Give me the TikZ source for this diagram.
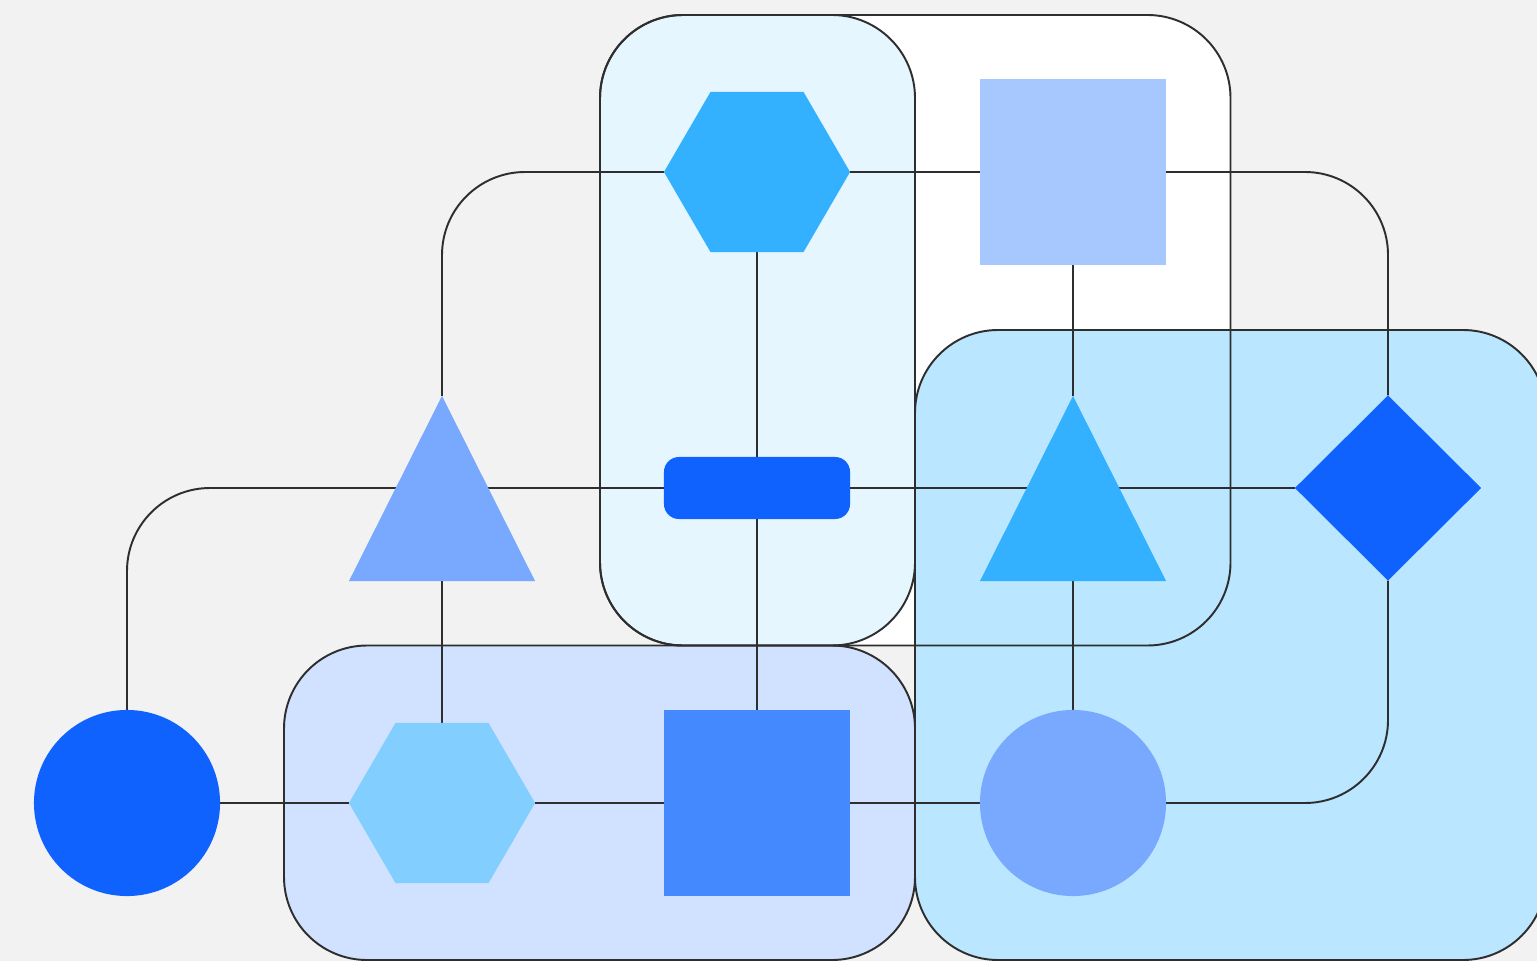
\documentclass[tikz,border=0pt]{standalone}
\definecolor{canvas}{HTML}{F2F2F2}
\definecolor{cyanten}{HTML}{E5F6FF}
\definecolor{cyantwenty}{HTML}{BAE6FF}
\definecolor{cyanthirty}{HTML}{82CFFF}
\definecolor{cyanforty}{HTML}{33B1FF}
\definecolor{bluetwenty}{HTML}{D0E2FF}
\definecolor{bluethirty}{HTML}{A6C8FF}
\definecolor{blueforty}{HTML}{78A9FF}
\definecolor{bluefifty}{HTML}{4589FF}
\definecolor{bluesixty}{HTML}{0F62FE}
\definecolor{ink}{HTML}{2E2E2E}

\pgfdeclarelayer{groups}
\pgfdeclarelayer{wires}
\pgfsetlayers{groups,wires,main}

\tikzset{
  wire/.style={draw=ink, line width=0.55pt, rounded corners=0.83cm},
  groupfill/.style={fill=#1, rounded corners=0.83cm},
  groupline/.style={draw=ink, line width=0.55pt, rounded corners=0.83cm},
  box/.style={inner sep=0pt, outer sep=0pt, minimum width=1.86cm, minimum height=1.86cm},
  sqnode/.style={box, fill=#1},
  disc/.style={circle, inner sep=0pt, outer sep=0pt, minimum size=1.86cm, fill=#1},
  hexnode/.style={box, minimum height=1.6cm,
    path picture={\fill[#1] (path picture bounding box.west)
      -- ([xshift=0.465cm]path picture bounding box.north west)
      -- ([xshift=-0.465cm]path picture bounding box.north east)
      -- (path picture bounding box.east)
      -- ([xshift=-0.465cm]path picture bounding box.south east)
      -- ([xshift=0.465cm]path picture bounding box.south west) -- cycle;}},
  trinode/.style={box, minimum height=1.85cm,
    path picture={\fill[#1] (path picture bounding box.south west)
      -- (path picture bounding box.north)
      -- (path picture bounding box.south east) -- cycle;}},
  dianode/.style={box, minimum height=1.85cm,
    path picture={\fill[#1] (path picture bounding box.north)
      -- (path picture bounding box.east)
      -- (path picture bounding box.south)
      -- (path picture bounding box.west) -- cycle;}},
  pill/.style={box, minimum height=0.62cm, rounded corners=0.15cm, fill=#1},
}

\begin{document}
\begin{tikzpicture}[x=0.01cm, y=-0.01cm]
  \useasboundingbox (0,0) rectangle (1537,961);

  % shapes on a grid: columns 127, 442, 757, 1073, 1388; rows 172, 488, 803
  \node[hexnode=cyanforty]  (hexT)  at (757,172)    {};
  \node[sqnode=bluethirty]  (sqT)   at (1073,172)   {};
  \node[trinode=blueforty]  (triL)  at (442,488.5)  {};
  \node[pill=bluesixty]     (bar)   at (757,488)    {};
  \node[trinode=cyanforty]  (triR)  at (1073,488.5) {};
  \node[dianode=bluesixty]  (dia)   at (1388,488)   {};
  \node[disc=bluesixty]     (circL) at (127,803)    {};
  \node[hexnode=cyanthirty] (hexB)  at (442,803)    {};
  \node[sqnode=bluefifty]   (sqB)   at (757,803)    {};
  \node[disc=blueforty]     (circR) at (1073,803)   {};

  % canvas and group panels: fills first, then every outline on top
  \begin{pgfonlayer}{groups}
    \clip (0,0) rectangle (1537,961);
    \fill[canvas] (0,0) rectangle (1537,961);
    \fill[groupfill=white]      (600,15)  rectangle (1230.5,645.5);
    \fill[groupfill=cyanten]    (600,15)  rectangle (915,645.5);
    \fill[groupfill=bluetwenty] (284,645.5) rectangle (915,960);
    \fill[groupfill=cyantwenty] (915,330) rectangle (1546,960);
    \draw[groupline] (600,15)  rectangle (1230.5,645.5);
    \draw[groupline] (600,15)  rectangle (915,645.5);
    \draw[groupline] (284,645.5) rectangle (915,960);
    \draw[groupline] (915,330) rectangle (1546,960);
  \end{pgfonlayer}

  % connectors
  \begin{pgfonlayer}{wires}
    \draw[wire] (hexT.west) -| (triL.north);
    \draw[wire] (hexT.east) -- (sqT.west);
    \draw[wire] (sqT.east) -| (dia.north);
    \draw[wire] (hexT.south) -- (bar.north);
    \draw[wire] (bar.south) -- (sqB.north);
    \draw[wire] (circL.north) |- (bar.west);
    \draw[wire] (bar.east) -- (dia.west);
    \draw[wire] (triL.south) -- (hexB.north);
    \draw[wire] (sqT.south) -- (triR.north);
    \draw[wire] (triR.south) -- (circR.north);
    \draw[wire] (dia.south) |- (circR.east);
    \draw[wire] (circL.east) -- (hexB.west);
    \draw[wire] (hexB.east) -- (sqB.west);
    \draw[wire] (sqB.east) -- (circR.west);
  \end{pgfonlayer}
\end{tikzpicture}
\end{document}
